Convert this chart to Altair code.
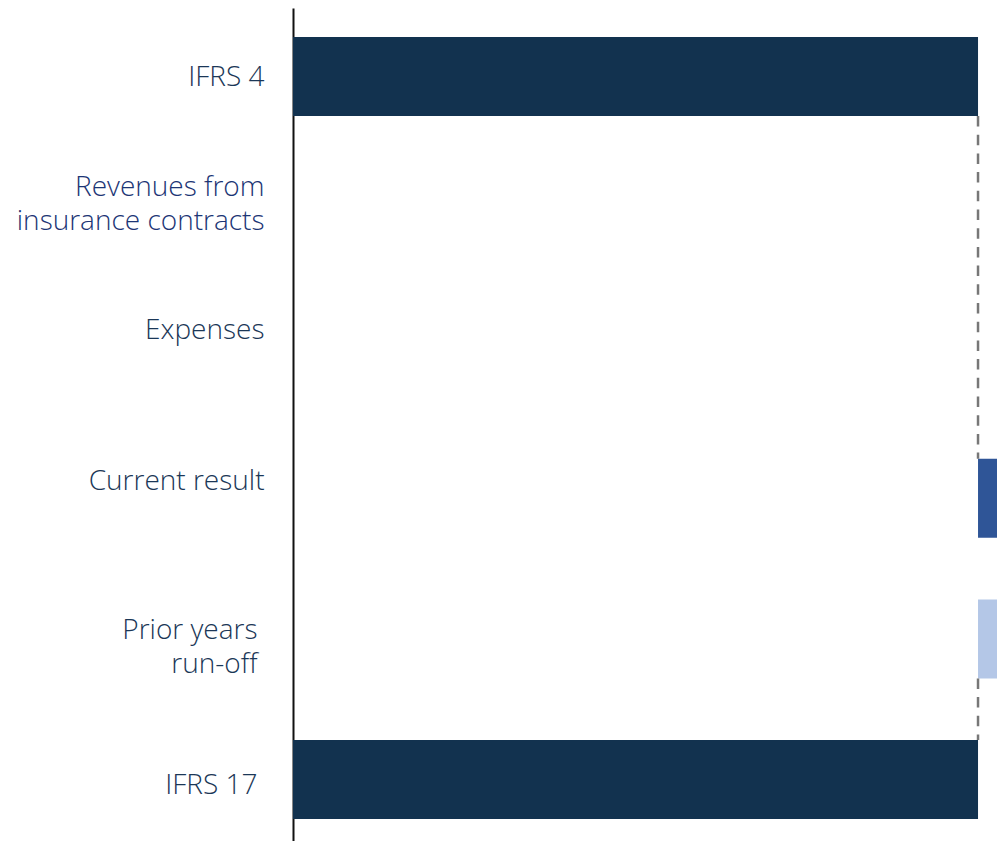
import altair as alt
import pandas as pd

# ---- data ----
categories = ["IFRS 4", "Revenues from insurance contracts", "Expenses",
              "Current result", "Prior years run-off", "IFRS 17"]
label_lines = [["IFRS 4"], ["Revenues from", "insurance contracts"], ["Expenses"],
               ["Current result"], ["Prior years", "run-off"], ["IFRS 17"]]
bar_start = [0, None, None, 100, 100, 0]
bar_end = [100, None, None, 112, 112, 100]
bar_kind = ["total", "none", "none", "current", "prior", "total"]

conn_from = ["IFRS 4", "Prior years run-off"]
conn_to = ["Current result", "IFRS 17"]
conn_x = [100, 100]

# ---- styles ----
kind_colors = {"total": "#12324F", "current": "#2F5597", "prior": "#B4C7E7", "none": "#ffffff"}
label_offsets = {"IFRS 4": 1, "Revenues from insurance contracts": -29, "Expenses": -27,
                 "Current result": -16, "Prior years run-off": -8, "IFRS 17": 7}
label_pads = {"Prior years run-off": 36, "IFRS 17": 36}

bars = pd.DataFrame({"category": categories, "start": bar_start, "end": bar_end, "kind": bar_kind})
bars = bars.dropna()
conns = pd.DataFrame({"from": conn_from, "to": conn_to, "x": conn_x})

def js_str(s):
    return "'" + s.replace("'", "\\'") + "'"

label_expr = "datum.value"
for cat, lines in reversed(list(zip(categories, label_lines))):
    arr = "[" + ", ".join(js_str(l) for l in lines) + "]"
    label_expr = f"datum.value == {js_str(cat)} ? {arr} : ({label_expr})"

offset_expr = "0"
for cat, off in label_offsets.items():
    offset_expr = f"datum.value == {js_str(cat)} ? {off} : ({offset_expr})"

pad_expr = "29"
for cat, pad in label_pads.items():
    pad_expr = f"datum.value == {js_str(cat)} ? {pad} : ({pad_expr})"

yscale = alt.Scale(domain=categories, paddingInner=0.4381, paddingOuter=0.1814, align=0.5686)
xscale = alt.Scale(domain=[0, 102.77], nice=False, zero=False)

yaxis = alt.Axis(
    title=None, ticks=False, grid=False,
    domain=True, domainColor="#111111", domainWidth=2,
    labelExpr=label_expr,
    labelFont="Open Sans", labelFontWeight=300, labelFontSize=28,
    labelLineHeight=34, labelPadding={"expr": pad_expr}, labelLimit=400,
    labelAlign="right", labelBaseline="middle",
    labelColor=alt.condition(f"datum.value == {js_str(categories[1])}",
                             alt.value("#1C3575"), alt.value("#1B3757")),
    labelOffset={"expr": offset_expr},
)

bar_layer = alt.Chart(bars).mark_bar(clip=True).encode(
    y=alt.Y("category:N", scale=yscale, axis=yaxis, sort=categories),
    x=alt.X("start:Q", scale=xscale, axis=None),
    x2="end:Q",
    color=alt.Color("kind:N",
                    scale=alt.Scale(domain=list(kind_colors.keys()), range=list(kind_colors.values())),
                    legend=None),
)

conn_layer = alt.Chart(conns).mark_rule(color="#777777", strokeWidth=2.5, strokeDash=[10.5, 8.2]).encode(
    y=alt.Y("from:N", bandPosition=1, scale=yscale),
    y2=alt.Y2("to:N", bandPosition=0),
    x=alt.X("x:Q", scale=xscale),
)

chart = alt.layer(bar_layer, conn_layer).properties(
    width=704, height=833,
    padding={"left": 285, "top": 0, "right": 0, "bottom": 0},
    autosize=alt.AutoSizeParams(type="none"),
).configure(background="white").configure_view(stroke=None, strokeWidth=0)

chart.save("out.html", embed_options={"renderer": "svg", "actions": False})
